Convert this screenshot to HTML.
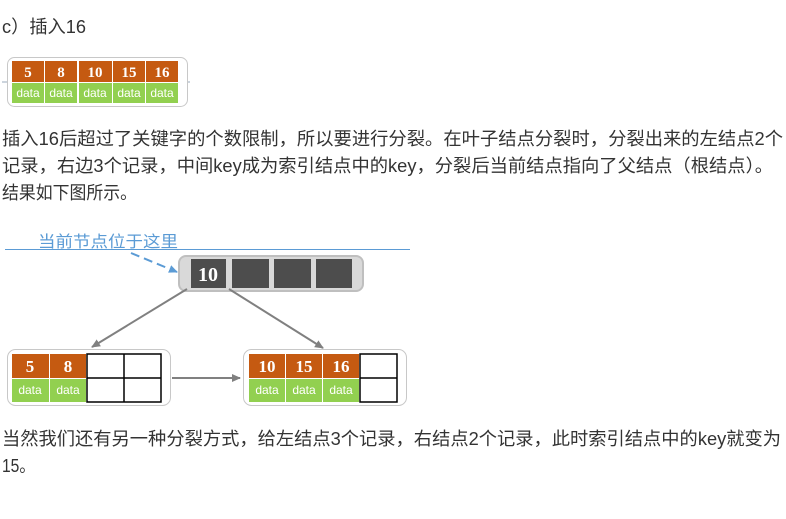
<!DOCTYPE html>
<html><head><meta charset="utf-8"><style>
html,body{margin:0;padding:0;background:#fff;width:786px;height:519px;overflow:hidden}
svg{display:block}
.t{font-family:"Liberation Sans","Noto Sans CJK SC",sans-serif;font-size:18px;fill:#333}
.k{font-family:"Liberation Serif",serif;font-weight:bold;fill:#fff;text-anchor:middle}
.d{font-family:"Liberation Sans",sans-serif;fill:#fff;text-anchor:middle;font-size:12px}
</style></head><body>
<svg width="786" height="519" viewBox="0 0 786 519" xmlns="http://www.w3.org/2000/svg">
<defs>
<marker id="ah" markerWidth="10" markerHeight="10" refX="8" refY="5" orient="auto" markerUnits="userSpaceOnUse"><path d="M0,1 L9,5 L0,9 Z" fill="#808080"/></marker>
<marker id="ab" markerWidth="10" markerHeight="10" refX="8" refY="5" orient="auto" markerUnits="userSpaceOnUse"><path d="M0,1 L9,5 L0,9 Z" fill="#5b9bd5"/></marker>
</defs>
<text class="t" x="2" y="33" textLength="84" lengthAdjust="spacingAndGlyphs">c）插入16</text>

<line x1="2" y1="82" x2="190" y2="82" stroke="#9ab" stroke-width="1"/>
<rect x="7.5" y="57.5" width="180" height="49" rx="7" fill="#fff" stroke="#c8c8c8"/>
<g>
<rect x="12" y="61" width="32" height="21" fill="#c55a11"/><rect x="45" y="61" width="32" height="21" fill="#c55a11"/><rect x="79" y="61" width="33" height="21" fill="#c55a11"/><rect x="113" y="61" width="32" height="21" fill="#c55a11"/><rect x="146" y="61" width="32" height="21" fill="#c55a11"/>
<rect x="12" y="83" width="32" height="20" fill="#92d050"/><rect x="45" y="83" width="32" height="20" fill="#92d050"/><rect x="79" y="83" width="33" height="20" fill="#92d050"/><rect x="113" y="83" width="32" height="20" fill="#92d050"/><rect x="146" y="83" width="32" height="20" fill="#92d050"/>
<text class="k" font-size="15" x="28" y="77">5</text><text class="k" font-size="15" x="61" y="77">8</text><text class="k" font-size="15" x="95" y="77">10</text><text class="k" font-size="15" x="129" y="77">15</text><text class="k" font-size="15" x="162" y="77">16</text>
<text class="d" x="28" y="97">data</text><text class="d" x="61" y="97">data</text><text class="d" x="95" y="97">data</text><text class="d" x="129" y="97">data</text><text class="d" x="162" y="97">data</text>
</g>

<text class="t" x="2" y="145" textLength="781" lengthAdjust="spacingAndGlyphs">插入16后超过了关键字的个数限制，所以要进行分裂。在叶子结点分裂时，分裂出来的左结点2个</text>
<text class="t" x="2" y="172" textLength="771" lengthAdjust="spacingAndGlyphs">记录，右边3个记录，中间key成为索引结点中的key，分裂后当前结点指向了父结点（根结点）。</text>
<text class="t" x="2" y="199" textLength="135" lengthAdjust="spacingAndGlyphs">结果如下图所示。</text>

<text x="38" y="247" font-family="'Noto Sans CJK SC',sans-serif" font-size="16" fill="#5b9bd5" textLength="140" lengthAdjust="spacingAndGlyphs">当前节点位于这里</text>
<line x1="5" y1="249.5" x2="410" y2="249.5" stroke="#5b9bd5" stroke-width="1"/>
<line x1="131" y1="253" x2="177" y2="272" stroke="#5b9bd5" stroke-width="2" stroke-dasharray="9,5" marker-end="url(#ab)"/>

<rect x="179" y="256" width="184" height="35" rx="7" fill="#d9d9d9" stroke="#bfbfbf" stroke-width="2"/>
<rect x="191" y="259" width="35" height="29" fill="#4d4d4d"/>
<rect x="232" y="259" width="37" height="29" fill="#4d4d4d"/>
<rect x="274" y="259" width="37" height="29" fill="#4d4d4d"/>
<rect x="316" y="259" width="36" height="29" fill="#4d4d4d"/>
<text class="k" font-size="20" x="208" y="281">10</text>

<line x1="187" y1="289" x2="92" y2="347" stroke="#808080" stroke-width="2" marker-end="url(#ah)"/>
<line x1="229" y1="289" x2="323" y2="348" stroke="#808080" stroke-width="2" marker-end="url(#ah)"/>

<rect x="7.5" y="349.5" width="163" height="56" rx="8" fill="#fff" stroke="#c8c8c8"/>
<rect x="12" y="354" width="37" height="24" fill="#c55a11"/><rect x="50" y="354" width="36" height="24" fill="#c55a11"/>
<rect x="12" y="379" width="37" height="23" fill="#92d050"/><rect x="50" y="379" width="36" height="23" fill="#92d050"/>
<rect x="87" y="354" width="74" height="48" fill="#fff" stroke="#000" stroke-width="1.5"/>
<line x1="124" y1="354" x2="124" y2="402" stroke="#000" stroke-width="1.5"/>
<line x1="87" y1="378" x2="161" y2="378" stroke="#000" stroke-width="1.5"/>
<text class="k" font-size="17" x="30" y="372">5</text><text class="k" font-size="17" x="68" y="372">8</text>
<text class="d" x="30" y="394">data</text><text class="d" x="68" y="394">data</text>

<line x1="172" y1="378" x2="240" y2="378" stroke="#808080" stroke-width="2" marker-end="url(#ah)"/>

<rect x="243.5" y="349.5" width="163" height="56" rx="8" fill="#fff" stroke="#c8c8c8"/>
<rect x="249" y="354" width="36" height="24" fill="#c55a11"/><rect x="286" y="354" width="36" height="24" fill="#c55a11"/><rect x="323" y="354" width="36" height="24" fill="#c55a11"/>
<rect x="249" y="379" width="36" height="23" fill="#92d050"/><rect x="286" y="379" width="36" height="23" fill="#92d050"/><rect x="323" y="379" width="36" height="23" fill="#92d050"/>
<rect x="360" y="354" width="37" height="48" fill="#fff" stroke="#000" stroke-width="1.5"/>
<line x1="360" y1="378" x2="397" y2="378" stroke="#000" stroke-width="1.5"/>
<text class="k" font-size="17" x="267" y="372">10</text><text class="k" font-size="17" x="304" y="372">15</text><text class="k" font-size="17" x="341" y="372">16</text>
<text class="d" x="267" y="394">data</text><text class="d" x="304" y="394">data</text><text class="d" x="341" y="394">data</text>

<text class="t" x="2" y="445" textLength="779" lengthAdjust="spacingAndGlyphs">当然我们还有另一种分裂方式，给左结点3个记录，右结点2个记录，此时索引结点中的key就变为</text>
<text class="t" x="2" y="472" textLength="33" lengthAdjust="spacingAndGlyphs">15。</text>
</svg>
</body></html>
